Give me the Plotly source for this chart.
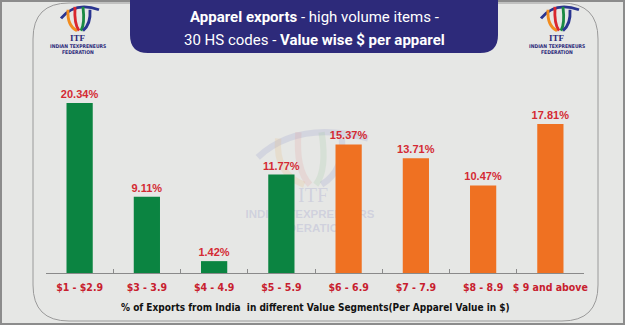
import plotly.graph_objects as go

# Value segments (per-apparel unit value) and share of exports from India
segments = ["$1 - $2.9", "$3 - 3.9", "$4 - 4.9", "$5 - 5.9",
            "$6 - 6.9", "$7 - 7.9", "$8 - 8.9", "$ 9 and above"]
share_pct = [20.34, 9.11, 1.42, 11.77, 15.37, 13.71, 10.47, 17.81]
bar_colors = ["#0b8441"] * 4 + ["#ef7122"] * 4

W, H = 625, 325
PL, PR, PT, PB = 46, 584, 72, 273   # plot area in pixels
NARROW = "DejaVu Sans Condensed"


def X(px):
    return (px - PL) / (PR - PL)


def Y(py):
    return (PB - py) / (PB - PT)


def rounded_path(x0, y0, x1, y1, r):
    pts = [
        f"M {X(x0 + r)},{Y(y0)}",
        f"L {X(x1 - r)},{Y(y0)}",
        f"Q {X(x1)},{Y(y0)} {X(x1)},{Y(y0 + r)}",
        f"L {X(x1)},{Y(y1 - r)}",
        f"Q {X(x1)},{Y(y1)} {X(x1 - r)},{Y(y1)}",
        f"L {X(x0 + r)},{Y(y1)}",
        f"Q {X(x0)},{Y(y1)} {X(x0)},{Y(y1 - r)}",
        f"L {X(x0)},{Y(y0 + r)}",
        f"Q {X(x0)},{Y(y0)} {X(x0 + r)},{Y(y0)}",
        "Z",
    ]
    return " ".join(pts)


def qcurve(p0, c, p1):
    return f"M {X(p0[0])},{Y(p0[1])} Q {X(c[0])},{Y(c[1])} {X(p1[0])},{Y(p1[1])}"


shapes = []
# outer frame and rounded card
shapes.append(dict(type="rect", xref="paper", yref="paper", x0=X(1), x1=X(W - 1),
                   y0=Y(1), y1=Y(H - 1), line=dict(color="#8c8c8c", width=2), layer="below"))
shapes.append(dict(type="path", xref="paper", yref="paper",
                   path=rounded_path(33, 3, 598, 321, 36),
                   line=dict(color="#9a9a9a", width=1), layer="below"))
# title banner
shapes.append(dict(type="path", xref="paper", yref="paper",
                   path=rounded_path(130, -20, 498, 53, 18),
                   fillcolor="#2d2a7a", line=dict(width=0), layer="above"))


def logo_arcs(cx, top, sx, sy, opacity, layer, colors=None):
    cols = colors or ["#2a3590", "#f28c1e", "#d9262e", "#1b8a44", "#2a3590"]
    geo = [
        ((-18, 14), (-4, -4), (20, 5)),
        ((-11, 5), (-12, 22), (-2, 27)),
        ((-4, 2), (-5, 20), (0, 27)),
        ((4, 2), (6, 20), (2, 27)),
        ((11, 5), (12, 20), (4, 27)),
    ]
    out = []
    for col, pts in zip(cols, geo):
        p0, c, p1 = [(cx + a * sx, top + b * sy) for a, b in pts]
        out.append(dict(type="path", xref="paper", yref="paper", path=qcurve(p0, c, p1),
                        line=dict(color=col, width=3 * min(sx, sy)), opacity=opacity, layer=layer))
    return out


shapes += logo_arcs(79, 5, 1.0, 0.95, 1.0, "above")
shapes += logo_arcs(559, 5, 1.0, 0.95, 1.0, "above")
shapes += logo_arcs(310, 128, 2.9, 2.1, 0.2, "below",
                    ["#8c92c8", "#e8b878", "#e49a9a", "#9cc89c", "#8c92c8"])


def note(x, y, text, family, size, color):
    return dict(xref="paper", yref="paper", x=X(x), y=Y(y), xanchor="center", yanchor="middle",
                text=text, showarrow=False,
                font=dict(family=family, size=size, color=color))


annotations = [
    note(314, 17, "<b>Apparel exports</b> - high volume items -", "Roboto", 15, "white"),
    note(314, 40, "30 HS codes - <b>Value wise $ per apparel</b>", "Roboto", 15, "white"),
]
for cx in (78, 557):
    annotations.append(note(cx, 38, "<b>ITF</b>", "Liberation Serif", 9, "#2d2a7a"))
    annotations.append(note(cx, 46, "<b>INDIAN TEXPRENEURS</b>", NARROW, 5, "#2d2a7a"))
    annotations.append(note(cx, 52, "<b>FEDERATION</b>", NARROW, 5, "#2d2a7a"))
# axis caption
annotations.append(note(315, 307,
                        "<b>% of Exports from India  in different Value Segments(Per Apparel Value in $)</b>",
                        NARROW, 10, "#111111"))

fig = go.Figure()

# faint watermark on the base subplot, underneath the bars
fig.add_trace(go.Scatter(
    x=[313, 310, 310], y=[197, 215, 229],
    text=["ITF", "<b>INDIAN TEXPRENEURS</b>", "<b>FEDERATION</b>"],
    mode="text", hoverinfo="skip", showlegend=False,
    textfont=dict(family=["Liberation Serif", "Liberation Sans", "Liberation Sans"],
                  size=[20, 11.5, 11.5], color="rgba(160,162,205,0.32)"),
    xaxis="x", yaxis="y",
))

fig.add_trace(go.Bar(
    x=segments, y=share_pct,
    marker=dict(color=bar_colors, line=dict(width=0)),
    width=0.39,
    text=[f"{v:.2f}%" for v in share_pct],
    textposition="outside",
    constraintext="none",
    textfont=dict(family="Liberation Sans", size=11, color="#d42a33"),
    texttemplate="<b>%{text}</b>",
    cliponaxis=False,
    showlegend=False,
    xaxis="x2", yaxis="y2",
))

fig.update_layout(
    width=W, height=H,
    margin=dict(l=PL, r=W - PR, t=PT, b=H - PB, pad=0),
    paper_bgcolor="#e6e7e5",
    plot_bgcolor="rgba(0,0,0,0)",
    shapes=shapes,
    annotations=annotations,
    xaxis=dict(range=[PL, PR], visible=False, fixedrange=True),
    yaxis=dict(range=[PB, PT], visible=False, fixedrange=True),
    xaxis2=dict(overlaying="x", anchor="y2", side="bottom",
                showline=True, linecolor="#8a8a8a", linewidth=1,
                ticks="inside", ticklen=4, tickcolor="#8a8a8a", tickson="boundaries",
                showgrid=False, zeroline=False, tickangle=0, automargin=False,
                ticklabelstandoff=4,
                tickfont=dict(family=NARROW, size=10.5, color="#c8202e", weight="bold"),
                range=[-0.5, 7.5]),
    yaxis2=dict(overlaying="y", anchor="x2", range=[0, 24.04], visible=False,
                showgrid=False, zeroline=False),
)

fig.write_html("out.html")
